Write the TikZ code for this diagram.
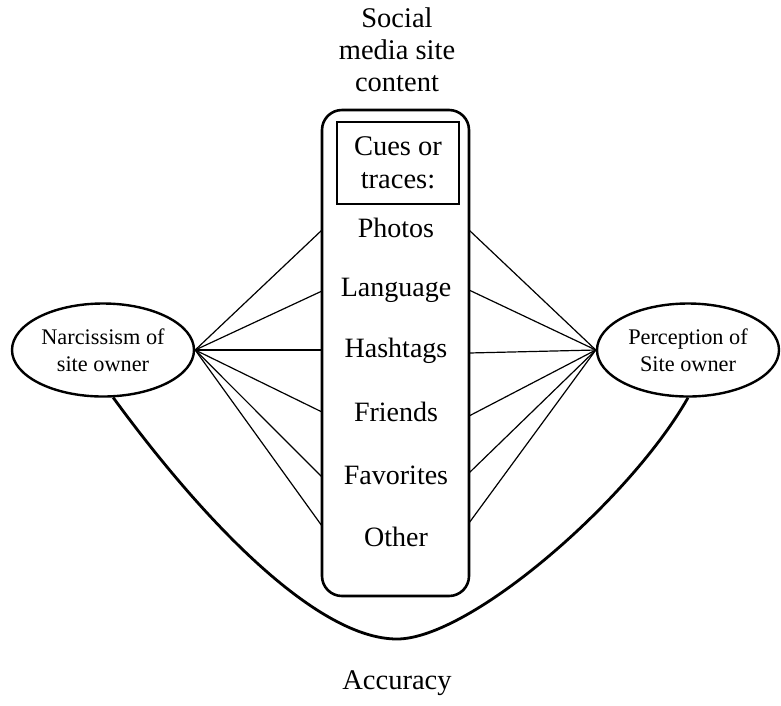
\documentclass[tikz,border=0pt]{standalone}
\usepackage{fontspec}
\setmainfont{Liberation Serif}
\usetikzlibrary{shapes.geometric}
\begin{document}
\begin{tikzpicture}[x=1pt,y=-1pt,
  bigtext/.style={font=\fontsize{28.5}{32}\selectfont, align=center, inner sep=0pt},
  item/.style={font=\fontsize{28}{30}\selectfont, inner sep=0pt},
  oval/.style={draw, ellipse, line width=2.4pt, minimum width=182pt, minimum height=93pt,
    inner sep=0pt, align=center, font=\fontsize{22.3}{27}\selectfont},
  panel/.style={draw, line width=2.6pt, rounded corners=20pt, inner sep=0pt},
  cuebox/.style={draw, line width=1.3pt, inner sep=0pt, align=center,
    font=\fontsize{28.5}{33}\selectfont},
  link/.style={line width=1.2pt},
  arc/.style={line width=2.8pt}
]
\useasboundingbox (0,0) rectangle (781,705);

% title above the cue panel
\node[bigtext] (title) at (397,50) {Social\\media site\\content};

% central panel listing the cues
\node[panel, minimum width=147pt, minimum height=486pt] (panel) at (395.5,353) {};
\node[cuebox, minimum width=122pt, minimum height=82pt] (cues) at (398,163) {Cues or\\traces:};

\node[item] (photos)    at (396,228) {Photos};
\node[item] (language)  at (396,290) {Language};
\node[item] (hashtags)  at (396,351) {Hashtags};
\node[item] (friends)   at (396,412) {Friends};
\node[item] (favorites) at (396,475) {Favorites};
\node[item] (other)     at (396,537) {Other};

% the two constructs
\node[oval] (narc) at (103,350) {Narcissism of\\site owner};
\node[oval] (perc) at (688,350) {Perception of\\Site owner};

% attachment points on the panel edges
\coordinate (la) at (322,230);
\coordinate (lb) at (322,291);
\coordinate (lc) at (322,350);
\coordinate (ld) at (322,412);
\coordinate (le) at (322,477);
\coordinate (lf) at (322,526);
\coordinate (ra) at (469,230);
\coordinate (rb) at (469,290);
\coordinate (rc) at (469,353);
\coordinate (rd) at (469,416);
\coordinate (re) at (469,473);
\coordinate (rf) at (469,523);

\foreach \p in {la,lb,lc,ld,le,lf} \draw[link] (narc.east) -- (\p);
\foreach \p in {ra,rb,rc,rd,re,rf} \draw[link] (perc.west) -- (\p);

% accuracy arc joining the constructs
\coordinate (low) at (397,639);
\draw[arc] (narc.-78) .. controls (210,530) and (320,639) .. (low)
           .. controls (470,639) and (630,500) .. (perc.south);

\node[bigtext] (acc) at (397,683) {Accuracy};
\end{tikzpicture}
\end{document}
